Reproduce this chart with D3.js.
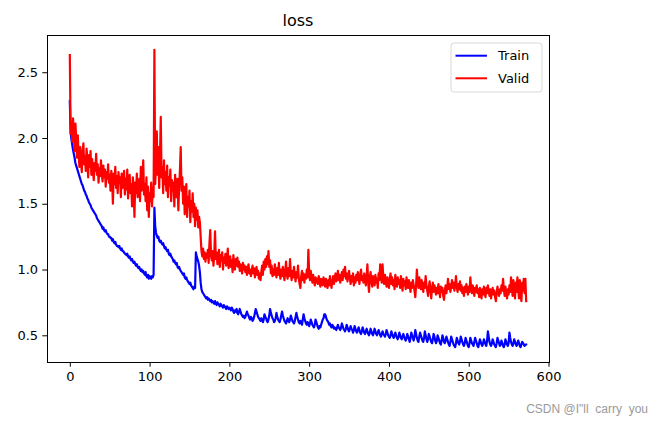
<!DOCTYPE html>
<html>
<head>
<meta charset="utf-8">
<script src="https://cdn.jsdelivr.net/npm/d3@7"></script>
<style>
  html, body { margin: 0; padding: 0; background: #fff; }
  svg { display: block; }
  .tick text { font-family: "DejaVu Sans", sans-serif; font-size: 13px; fill: #000; }
</style>
</head>
<body>
<svg id="chart" width="664" height="425"></svg>
<script>
// ---- data ----
const title = "loss";
const seriesNames = ["Train", "Valid"];
const seriesColors = ["#0000ff", "#ff0000"];
const xTicks = [0, 100, 200, 300, 400, 500, 600];
const yTicks = [0.5, 1.0, 1.5, 2.0, 2.5];

const trainLoss = [
  2.28, 2.05, 1.99, 1.95, 1.91, 1.88, 1.85, 1.81, 1.79, 1.77,
  1.75, 1.73, 1.71, 1.69, 1.67, 1.65, 1.64, 1.62, 1.60, 1.59,
  1.57, 1.56, 1.54, 1.53, 1.51, 1.50, 1.49, 1.47, 1.46, 1.45,
  1.44, 1.43, 1.42, 1.41, 1.39, 1.38, 1.37, 1.36, 1.35, 1.34,
  1.33, 1.31, 1.32, 1.30, 1.29, 1.30, 1.28, 1.27, 1.27, 1.25,
  1.25, 1.24, 1.24, 1.22, 1.23, 1.21, 1.20, 1.21, 1.19, 1.18,
  1.18, 1.17, 1.18, 1.16, 1.15, 1.16, 1.14, 1.14, 1.13, 1.12,
  1.12, 1.11, 1.12, 1.10, 1.09, 1.10, 1.08, 1.07, 1.08, 1.06,
  1.05, 1.06, 1.04, 1.03, 1.04, 1.02, 1.01, 1.02, 1.00, 0.99,
  1.00, 0.98, 0.99, 0.97, 0.96, 0.98, 0.95, 0.94, 0.96, 0.93,
  0.95, 0.94, 0.93, 0.95, 0.94, 0.96, 1.47, 1.33, 1.28, 1.26,
  1.24, 1.25, 1.22, 1.21, 1.22, 1.20, 1.19, 1.20, 1.18, 1.16,
  1.17, 1.15, 1.14, 1.15, 1.12, 1.11, 1.12, 1.10, 1.09, 1.08,
  1.06, 1.07, 1.05, 1.04, 1.05, 1.02, 1.01, 1.02, 1.00, 0.99,
  0.98, 0.97, 0.96, 0.97, 0.94, 0.93, 0.94, 0.92, 0.91, 0.90,
  0.89, 0.90, 0.88, 0.87, 0.86, 0.85, 0.87, 0.86, 1.13, 1.10,
  1.08, 1.06, 1.03, 0.98, 0.90, 0.85, 0.83, 0.82, 0.81, 0.80,
  0.79, 0.78, 0.79, 0.77, 0.78, 0.77, 0.76, 0.77, 0.75, 0.76,
  0.75, 0.74, 0.76, 0.74, 0.73, 0.75, 0.74, 0.73, 0.72, 0.74,
  0.73, 0.72, 0.71, 0.73, 0.72, 0.71, 0.70, 0.72, 0.71, 0.70,
  0.71, 0.70, 0.69, 0.71, 0.70, 0.68, 0.67, 0.69, 0.68, 0.70,
  0.67, 0.66, 0.68, 0.70, 0.68, 0.66, 0.65, 0.64, 0.65, 0.63,
  0.64, 0.66, 0.68, 0.66, 0.65, 0.63, 0.62, 0.64, 0.63, 0.61,
  0.62, 0.64, 0.67, 0.70, 0.68, 0.66, 0.64, 0.63, 0.62, 0.61,
  0.63, 0.62, 0.60, 0.62, 0.66, 0.64, 0.63, 0.61, 0.60, 0.62,
  0.65, 0.70, 0.67, 0.65, 0.63, 0.62, 0.60, 0.61, 0.63, 0.67,
  0.64, 0.62, 0.61, 0.60, 0.62, 0.65, 0.68, 0.65, 0.63, 0.61,
  0.60, 0.59, 0.61, 0.63, 0.61, 0.60, 0.62, 0.65, 0.63, 0.61,
  0.60, 0.59, 0.61, 0.64, 0.67, 0.64, 0.62, 0.60, 0.59, 0.61,
  0.60, 0.58, 0.62, 0.66, 0.63, 0.61, 0.59, 0.58, 0.60, 0.59,
  0.57, 0.59, 0.62, 0.60, 0.58, 0.57, 0.56, 0.58, 0.62, 0.60,
  0.58, 0.56, 0.55, 0.57, 0.56, 0.58, 0.60, 0.62, 0.63, 0.66,
  0.66, 0.64, 0.62, 0.61, 0.60, 0.58, 0.59, 0.57, 0.56, 0.58,
  0.57, 0.55, 0.56, 0.55, 0.54, 0.56, 0.58, 0.56, 0.55, 0.54,
  0.56, 0.59, 0.57, 0.55, 0.54, 0.53, 0.55, 0.58, 0.56, 0.54,
  0.53, 0.55, 0.57, 0.55, 0.54, 0.52, 0.54, 0.57, 0.55, 0.53,
  0.52, 0.54, 0.56, 0.54, 0.52, 0.51, 0.53, 0.56, 0.54, 0.52,
  0.51, 0.53, 0.55, 0.53, 0.51, 0.50, 0.52, 0.55, 0.53, 0.51,
  0.50, 0.52, 0.55, 0.53, 0.51, 0.50, 0.52, 0.54, 0.52, 0.50,
  0.49, 0.51, 0.53, 0.51, 0.50, 0.49, 0.51, 0.54, 0.52, 0.50,
  0.49, 0.48, 0.50, 0.53, 0.51, 0.49, 0.48, 0.50, 0.52, 0.50,
  0.48, 0.47, 0.49, 0.52, 0.50, 0.48, 0.47, 0.49, 0.51, 0.49,
  0.47, 0.46, 0.48, 0.51, 0.49, 0.47, 0.45, 0.48, 0.52, 0.50,
  0.48, 0.46, 0.49, 0.54, 0.51, 0.48, 0.46, 0.45, 0.49, 0.52,
  0.50, 0.48, 0.46, 0.45, 0.48, 0.53, 0.50, 0.47, 0.45, 0.47,
  0.51, 0.49, 0.47, 0.45, 0.44, 0.47, 0.51, 0.49, 0.46, 0.44,
  0.46, 0.50, 0.48, 0.46, 0.44, 0.43, 0.46, 0.50, 0.48, 0.45,
  0.44, 0.46, 0.49, 0.47, 0.45, 0.43, 0.42, 0.45, 0.49, 0.47,
  0.45, 0.43, 0.42, 0.41, 0.44, 0.48, 0.46, 0.44, 0.43, 0.45,
  0.49, 0.47, 0.45, 0.43, 0.42, 0.44, 0.48, 0.46, 0.44, 0.42,
  0.41, 0.44, 0.48, 0.46, 0.44, 0.43, 0.42, 0.45, 0.48, 0.46,
  0.44, 0.42, 0.41, 0.44, 0.47, 0.45, 0.43, 0.42, 0.44, 0.47,
  0.45, 0.43, 0.42, 0.46, 0.53, 0.49, 0.45, 0.43, 0.42, 0.44,
  0.47, 0.45, 0.43, 0.42, 0.41, 0.44, 0.48, 0.46, 0.44, 0.42,
  0.43, 0.46, 0.44, 0.42, 0.41, 0.43, 0.47, 0.45, 0.43, 0.42,
  0.44, 0.52, 0.48, 0.45, 0.43, 0.42, 0.44, 0.47, 0.45, 0.43,
  0.42, 0.44, 0.46, 0.44, 0.42, 0.41, 0.43, 0.45, 0.44, 0.43,
  0.42, 0.43, 0.43
];

const validLoss = [
  2.63, 2.03, 2.12, 1.97, 2.15, 2.06, 1.90, 2.11, 2.00, 1.85,
  2.02, 1.88, 1.78, 1.93, 1.82, 1.74, 1.90, 1.96, 1.80, 1.86,
  1.75, 1.92, 1.83, 1.70, 1.87, 1.78, 1.90, 1.72, 1.84, 1.76,
  1.68, 1.81, 1.75, 1.88, 1.72, 1.80, 1.66, 1.77, 1.71, 1.83,
  1.74, 1.67, 1.79, 1.70, 1.76, 1.63, 1.74, 1.69, 1.80, 1.66,
  1.72, 1.60, 1.75, 1.68, 1.50, 1.73, 1.65, 1.78, 1.62, 1.71,
  1.58, 1.74, 1.66, 1.70, 1.55, 1.73, 1.62, 1.68, 1.75, 1.57,
  1.69, 1.61, 1.76, 1.54, 1.67, 1.72, 1.58, 1.65, 1.48, 1.70,
  1.62, 1.40, 1.66, 1.58, 1.73, 1.55, 1.64, 1.69, 1.52, 1.78,
  1.60, 1.68, 1.83, 1.57, 1.65, 1.52, 1.70, 1.45, 1.63, 1.40,
  1.58, 1.52, 1.66, 1.48, 1.62, 1.55, 2.67, 1.65, 1.80, 2.05,
  1.72, 1.93, 1.62, 1.85, 2.16, 1.70, 1.78, 1.58, 1.83, 1.65,
  1.74, 1.60, 1.79, 1.55, 1.70, 1.64, 1.76, 1.52, 1.68, 1.60,
  1.66, 1.48, 1.72, 1.58, 1.55, 1.69, 1.45, 1.62, 1.75, 1.93,
  1.60, 1.70, 1.50, 1.63, 1.42, 1.58, 1.65, 1.40, 1.55, 1.48,
  1.60, 1.36, 1.52, 1.44, 1.58, 1.40, 1.50, 1.33, 1.47, 1.38,
  1.45, 1.32, 1.40, 1.36, 1.25, 1.14, 1.10, 1.16, 1.08, 1.13,
  1.06, 1.12, 1.09, 1.15, 1.05, 1.20, 1.30, 1.10, 1.07, 1.14,
  1.03, 1.10, 1.29, 1.08, 1.13, 1.04, 1.09, 1.15, 1.02, 1.11,
  1.07, 1.13, 1.00, 1.09, 1.05, 1.12, 1.03, 1.08, 1.16, 1.01,
  1.06, 1.10, 1.02, 1.07, 0.98, 1.11, 1.04, 1.00, 1.08, 1.03,
  1.09, 1.02, 1.06, 0.99, 1.04, 1.01, 0.97, 1.05, 1.00, 1.03,
  0.98, 1.02, 0.96, 1.01, 1.04, 0.97, 1.00, 0.95, 0.99, 1.03,
  0.97, 1.01, 0.94, 0.98, 1.02, 0.96, 0.99, 0.93, 0.97, 0.92,
  0.98, 1.03, 0.96, 1.06, 1.00, 1.08, 1.02, 1.10, 1.04, 1.14,
  1.02, 1.07, 0.97, 1.03, 0.95, 1.00, 0.96, 1.04, 0.98, 0.94,
  1.01, 0.96, 1.05, 0.97, 0.93, 1.00, 0.95, 1.02, 0.97, 0.92,
  0.99, 1.06, 0.96, 0.93, 1.01, 0.95, 1.08, 0.97, 0.92, 0.99,
  0.94, 1.02, 0.96, 0.91, 0.98, 0.94, 1.03, 0.93, 0.89, 0.86,
  0.95, 0.99, 0.92, 0.97, 0.90, 0.96, 0.93, 1.00, 0.94, 1.15,
  0.97, 0.92, 0.99, 0.94, 0.90, 0.96, 0.92, 0.88, 0.94, 0.90,
  0.93, 0.89, 0.95, 0.91, 0.87, 0.93, 0.90, 0.88, 0.94, 0.91,
  0.87, 0.93, 0.89, 0.86, 0.92, 0.88, 0.95, 0.90, 0.86, 0.91,
  0.95, 0.89, 0.93, 0.97, 0.91, 0.94, 0.99, 0.92, 0.96, 0.90,
  0.94, 0.98, 0.92, 1.00, 0.95, 1.02, 0.93, 0.97, 0.91, 0.96,
  0.99, 0.93, 0.89, 0.95, 0.91, 0.97, 0.88, 0.94, 0.90, 0.96,
  0.92, 0.98, 0.94, 0.89, 0.96, 1.00, 0.92, 0.95, 0.90, 0.97,
  0.93, 0.88, 0.95, 1.04, 0.90, 0.83, 0.94, 0.98, 0.91, 0.87,
  0.95, 0.92, 0.88, 0.96, 0.90, 0.93, 0.86, 0.97, 0.92, 1.04,
  0.95, 0.90, 1.04, 0.93, 0.89, 0.96, 0.91, 0.87, 0.94, 0.90,
  0.86, 0.93, 0.97, 0.89, 0.94, 0.88, 0.92, 0.85, 0.96, 0.91,
  0.87, 0.94, 0.89, 0.92, 0.86, 0.95, 0.90, 0.84, 0.93, 0.88,
  0.91, 0.85, 0.94, 0.89, 0.86, 0.92, 0.87, 0.83, 0.90, 0.86,
  0.92, 0.88, 0.84, 0.79, 0.88, 1.00, 0.90, 0.86, 0.94, 0.89,
  0.85, 0.92, 0.87, 0.83, 0.90, 0.86, 0.95, 0.88, 0.84, 0.80,
  0.87, 0.91, 0.84, 0.78, 0.86, 0.90, 0.83, 0.88, 0.85, 0.81,
  0.86, 0.82, 0.89, 0.84, 0.79, 0.87, 0.83, 0.86, 0.80, 0.77,
  0.84, 0.88, 0.82, 0.86, 0.93, 0.85, 0.89, 0.83, 0.87, 0.92,
  0.86, 0.90, 0.84, 0.88, 0.95, 0.87, 0.83, 0.89, 0.85, 0.91,
  0.84, 0.88, 0.82, 0.86, 0.80, 0.87, 0.83, 0.89, 0.85, 0.81,
  0.87, 0.83, 0.94, 0.86, 0.82, 0.88, 0.84, 0.80, 0.86, 0.83,
  0.88, 0.82, 0.85, 0.79, 0.86, 0.83, 0.78, 0.85, 0.81, 0.87,
  0.83, 0.79, 0.86, 0.82, 0.88, 0.84, 0.80, 0.85, 0.78, 0.83,
  0.86, 0.81, 0.84, 0.79, 0.76, 0.82, 0.87, 0.83, 0.80, 0.85,
  0.82, 0.88, 0.84, 0.93, 0.85, 0.80, 0.87, 0.82, 0.78, 0.85,
  0.81, 0.88, 0.83, 0.94, 0.86, 0.80, 0.92, 0.84, 0.78, 0.90,
  0.83, 0.94, 0.85, 0.78, 0.92, 0.82, 0.76, 0.90, 0.84, 0.93,
  0.82, 0.93, 0.76
];

const watermark = "CSDN @I\"ll  carry  you";

// ---- layout ----
const svg = d3.select("#chart");
const plot = { left: 47, right: 549, top: 35, bottom: 362 };

const n = trainLoss.length;
const xPad = (n - 1) * 0.05;
const x = d3.scaleLinear().domain([-xPad, (n - 1) + xPad]).range([plot.left, plot.right]);

const allVals = trainLoss.concat(validLoss);
const yMin = d3.min(allVals), yMax = d3.max(allVals);
const yPad = (yMax - yMin) * 0.05;
const y = d3.scaleLinear().domain([yMin - yPad, yMax + yPad]).range([plot.bottom, plot.top]);

// clip
svg.append("defs").append("clipPath").attr("id", "clip")
  .append("rect").attr("x", plot.left).attr("y", plot.top)
  .attr("width", plot.right - plot.left).attr("height", plot.bottom - plot.top);

// lines
const line = d3.line().x((d, i) => x(i)).y(d => y(d));
const series = [trainLoss, validLoss];
series.forEach((s, k) => {
  svg.append("path")
    .attr("clip-path", "url(#clip)")
    .attr("d", line(s))
    .attr("fill", "none")
    .attr("stroke", seriesColors[k])
    .attr("stroke-width", 2.2)
    .attr("stroke-linejoin", "round")
    .attr("stroke-linecap", "square");
});

// axes
const tickLen = 4.7, tickPad = 4.2;
const xAxis = svg.append("g").attr("transform", `translate(0,${plot.bottom})`)
  .call(d3.axisBottom(x).tickValues(xTicks).tickSize(tickLen).tickPadding(tickPad).tickFormat(d3.format("d")));
const yAxis = svg.append("g").attr("transform", `translate(${plot.left},0)`)
  .call(d3.axisLeft(y).tickValues(yTicks).tickSize(tickLen).tickPadding(tickPad).tickFormat(d3.format(".1f")));
[xAxis, yAxis].forEach(a => {
  a.select(".domain").remove();
  a.selectAll(".tick line").attr("stroke", "#000").attr("stroke-width", 1);
});
xAxis.selectAll(".tick text").attr("dy", "0.75em");

// frame
svg.append("rect")
  .attr("x", plot.left).attr("y", plot.top)
  .attr("width", plot.right - plot.left).attr("height", plot.bottom - plot.top)
  .attr("fill", "none").attr("stroke", "#000").attr("stroke-width", 1)
  .attr("shape-rendering", "crispEdges");

// title
svg.append("text")
  .attr("x", (plot.left + plot.right) / 2).attr("y", plot.top - 9)
  .attr("text-anchor", "middle")
  .style("font-family", "DejaVu Sans, sans-serif").style("font-size", "16px")
  .text(title);

// legend
const lg = svg.append("g").attr("transform", "translate(451,43)");
lg.append("rect").attr("x", 0).attr("y", 0).attr("width", 91).attr("height", 49)
  .attr("rx", 3).attr("fill", "#fff").attr("fill-opacity", 0.8)
  .attr("stroke", "#d9d9d9").attr("stroke-width", 1);
seriesNames.forEach((name, k) => {
  const yy = 12.7 + k * 22.6;
  lg.append("line").attr("x1", 4.5).attr("x2", 36).attr("y1", yy).attr("y2", yy)
    .attr("stroke", seriesColors[k]).attr("stroke-width", 2);
  lg.append("text").attr("x", 47).attr("y", yy).attr("dy", "0.36em")
    .style("font-family", "DejaVu Sans, sans-serif").style("font-size", "13px")
    .text(name);
});

// watermark
svg.append("text")
  .attr("x", 648).attr("y", 413)
  .attr("text-anchor", "end")
  .style("font-family", "Liberation Sans, Arial, sans-serif").style("font-size", "12px")
  .style("white-space", "pre").attr("xml:space", "preserve")
  .attr("fill", "#9a9a9a")
  .text(watermark);
</script>
</body>
</html>
